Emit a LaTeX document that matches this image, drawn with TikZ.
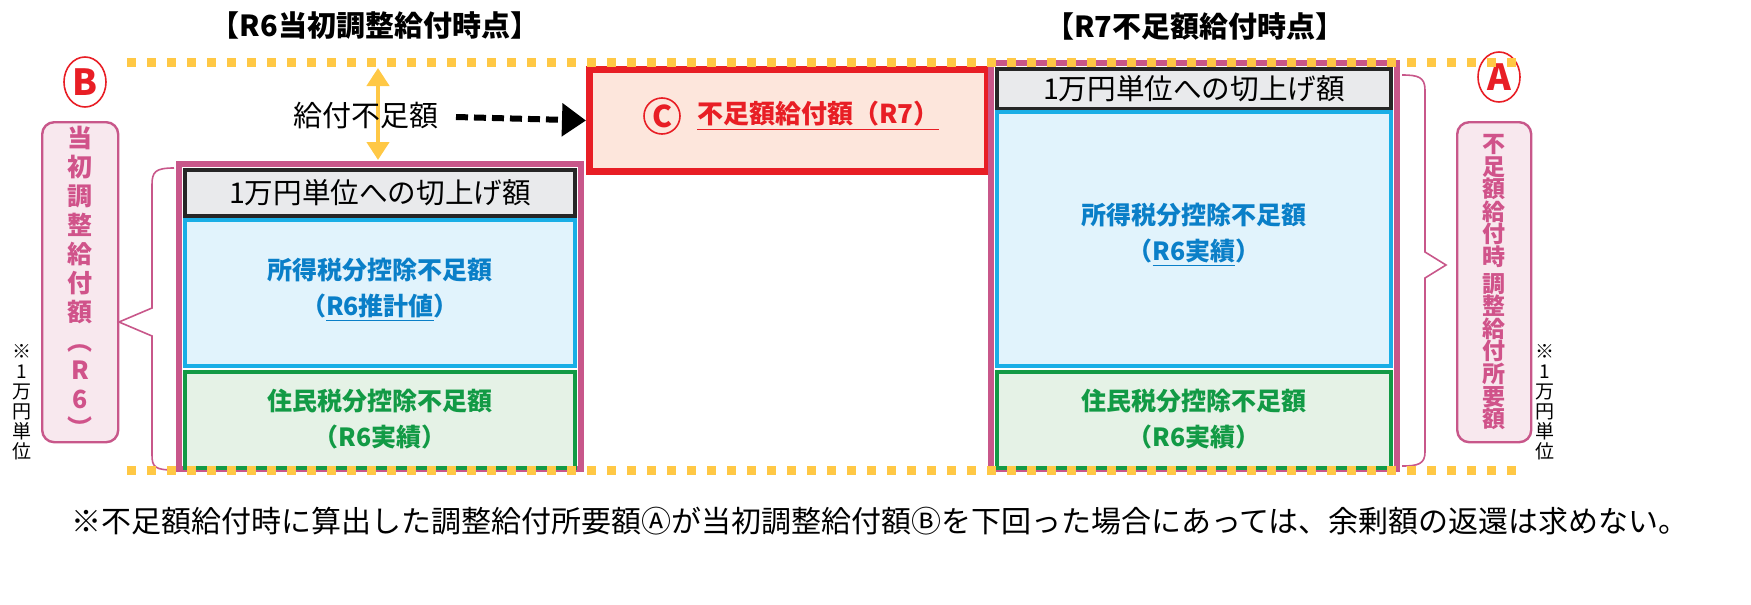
\documentclass[tikz,border=0pt]{standalone}
\usepackage{fontspec}
\setmainfont{Noto Sans CJK JP}
\usetikzlibrary{arrows.meta,shapes.geometric}
\definecolor{mag}{HTML}{C8578A}
\definecolor{pinkfill}{HTML}{F8E8EE}
\definecolor{bluec}{HTML}{0A7FC8}
\definecolor{bluel}{HTML}{19AEE6}
\definecolor{bluefill}{HTML}{E1F3FC}
\definecolor{greenc}{HTML}{129A45}
\definecolor{greenfill}{HTML}{E5F2E6}
\definecolor{grayfill}{HTML}{E9EAEC}
\definecolor{yel}{HTML}{FFC845}
\definecolor{redc}{HTML}{E81E25}
\definecolor{peach}{HTML}{FDE6DC}
\definecolor{pinktxt}{HTML}{D0538A}
\tikzset{
 outerbox/.style={draw=mag,line width=3pt},
 graybox/.style={draw=black!85,fill=grayfill,line width=2pt},
 bluebox/.style={draw=bluel,fill=bluefill,line width=2pt},
 greenbox/.style={draw=greenc,fill=greenfill,line width=2pt},
 lbl/.style={font=\fontsize{12.5}{18}\selectfont\bfseries,align=center},
 vbox/.style={draw=mag,fill=pinkfill,line width=1.2pt,rounded corners=6pt},
 vtxt/.style={text=pinktxt,align=center,inner sep=0pt},
 brace/.style={draw=mag,line width=0.8pt},
 circlbl/.style={ellipse,draw=redc,line width=0.8pt,text=redc,inner sep=0pt,minimum width=21pt,minimum height=25pt,font=\fontsize{18}{18}\selectfont\bfseries},
}
\begin{document}
\begin{tikzpicture}[x=0.5pt,y=-0.5pt]
\useasboundingbox (0,0) rectangle (1751,605);
% titles
\node[font=\fontsize{14.5}{16}\selectfont\bfseries] (t1) at (375,26) {【R6当初調整給付時点】};
\node[font=\fontsize{14.5}{16}\selectfont\bfseries] (t2) at (1195,26) {【R7不足額給付時点】};
% left stack
\draw[outerbox] (179,164) rectangle (581,469);
\node[graybox,minimum width=195pt,minimum height=23pt,anchor=north west,font=\fontsize{14.3}{15}\selectfont] (lg) at (183,168) {1万円単位への切上げ額};
\node[bluebox,minimum width=195pt,minimum height=73pt,anchor=north west] (lb) at (183,218) {};
\node[lbl,text=bluec] (lbt) at (380,290) {所得税分控除不足額\\（\underline{R6推計値}）};
\node[greenbox,minimum width=195pt,minimum height=48pt,anchor=north west] (lgr) at (183,370) {};
\node[lbl,text=greenc] (lgt) at (380,419) {住民税分控除不足額\\（R6実績）};
% C box
\node[draw=redc,fill=peach,line width=3.5pt,minimum width=199pt,minimum height=51pt,anchor=north west] (cb) at (586,66) {};
\node[circle,draw=redc,line width=0.8pt,text=redc,inner sep=0pt,minimum size=18pt,font=\fontsize{15}{15}\selectfont\bfseries] (cc) at (662,116) {C};
\node[font=\fontsize{13}{15}\selectfont\bfseries,text=redc,anchor=west] (ct) at (690,116) {\underline{不足額給付額（R7）}};
% right stack
\draw[outerbox] (991,63) rectangle (1397,469);
\node[graybox,minimum width=197pt,minimum height=18pt,anchor=north west,font=\fontsize{14.3}{15}\selectfont] (rg) at (995,67) {1万円単位への切上げ額};
\node[bluebox,minimum width=197pt,minimum height=127pt,anchor=north west] (rb) at (995,110) {};
\node[lbl,text=bluec] (rbt) at (1194,235) {所得税分控除不足額\\（\underline{R6実績}）};
\node[greenbox,minimum width=197pt,minimum height=48pt,anchor=north west] (rgr) at (995,370) {};
\node[lbl,text=greenc] (rgt) at (1194,419) {住民税分控除不足額\\（R6実績）};
% shortfall arrows
\coordinate (ya) at (378,68);
\coordinate (yb) at (378,160);
\draw[yel,line width=2.2pt,{Triangle[length=9pt,width=11pt]}-{Triangle[length=9pt,width=11pt]}] (ya) -- (yb);
\node[font=\fontsize{14.5}{16}\selectfont,inner sep=0pt] (kf) at (366,116) {給付不足額};
\coordinate (da) at (456,117);
\draw[line width=3pt,dash pattern=on 6pt off 3pt,-{Triangle[length=12pt,width=16pt]}] (da) -- (cb.west);
% left side
\node[circlbl] (B) at (85,82) {B};
\node[vbox,minimum width=38pt,minimum height=160pt,anchor=north west] (lv) at (41,121) {};
\node[vtxt,font=\fontsize{12.5}{14.5}\selectfont\bfseries] at (lv) {当\\初\\調\\整\\給\\付\\額\\︵\\R\\6\\︶};
\draw[brace] (174,168) .. controls (155,168) and (152,172) .. (152,185) -- (152,308) -- (119,322) -- (152,336) -- (152,455) .. controls (152,467) and (155,470) .. (174,470);
\node[inner sep=0pt,align=center,font=\fontsize{9.5}{10}\selectfont] (nl) at (22,402) {※\\1\\万\\円\\単\\位};
% right side
\node[circlbl] (A) at (1499,77) {A};
\node[vbox,minimum width=37pt,minimum height=160pt,anchor=north west] (rv) at (1456,121) {};
\node[vtxt,font=\fontsize{11.5}{11.3}\selectfont\bfseries] at (rv) {不\\足\\額\\給\\付\\時\\[2pt]調\\整\\給\\付\\所\\要\\額};
\draw[brace] (1402,75) .. controls (1418,75) and (1425,77) .. (1425,90) -- (1425,252) -- (1446,265) -- (1425,278) -- (1425,452) .. controls (1425,464) and (1418,466) .. (1402,466);
\node[inner sep=0pt,align=center,font=\fontsize{9.5}{10}\selectfont] (nr) at (1545,402) {※\\1\\万\\円\\単\\位};
% dotted lines
\draw[yel,line width=4.5pt,dash pattern=on 4.5pt off 5.5pt] (127,62) -- (1525,62);
\draw[yel,line width=4.5pt,dash pattern=on 4.5pt off 5.5pt] (127,470) -- (1520,470);
% footnote
\node[font=\fontsize{15}{17}\selectfont] (fn) at (880,521) {※不足額給付時に算出した調整給付所要額Ⓐが当初調整給付額Ⓑを下回った場合にあっては、余剰額の返還は求めない。};
\end{tikzpicture}
\end{document}
